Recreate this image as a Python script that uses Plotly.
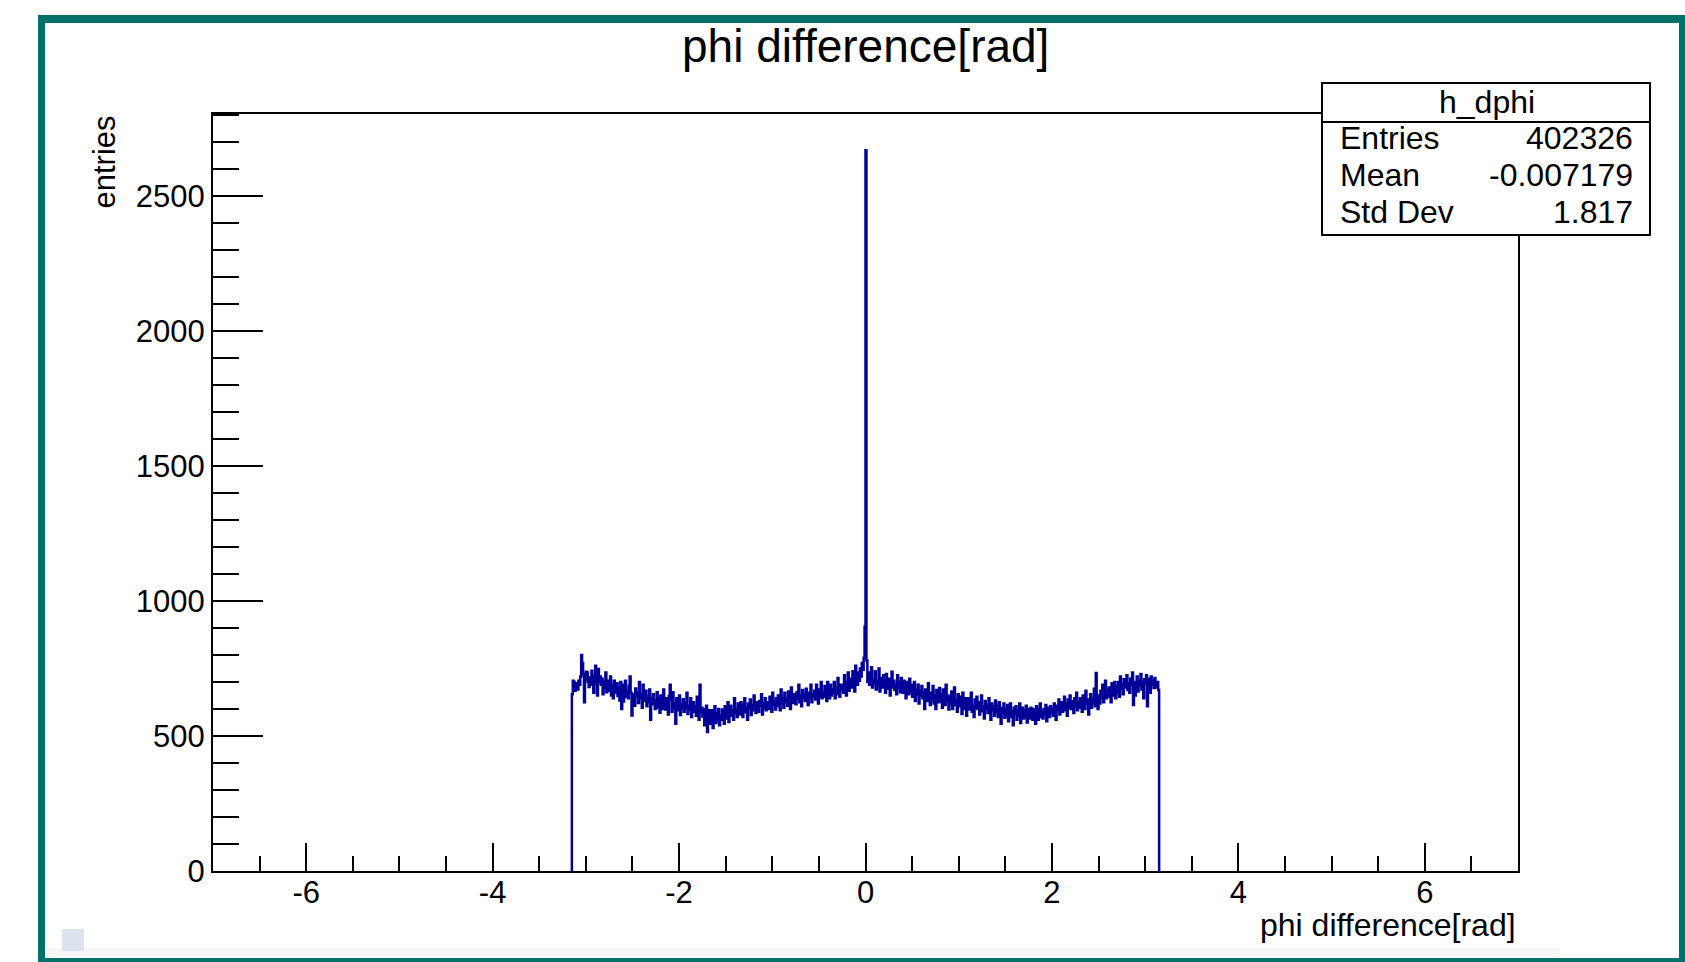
import numpy as np
import plotly.graph_objects as go

# ---------------- data ----------------
title_text = "phi difference[rad]"
x_title = "phi difference[rad]"
y_title = "entries"
hist_name = "h_dphi"
stat_labels = ["Entries", "Mean", "Std Dev"]
stat_values = ["402326", "-0.007179", "1.817"]

x_range = [-7, 7]
y_range = [0, 2804]
y_tickvals = [0, 500, 1000, 1500, 2000, 2500]
x_tickvals = [-6, -4, -2, 0, 2, 4, 6]

bin_lo = -3.15
bin_width = 0.01

counts_neg = [
    655, 705, 700, 668, 680, 695, 672, 705, 690, 720,
    800, 770, 730, 625, 710, 738, 735, 700, 682, 718,
    690, 742, 705, 660, 722, 760, 695, 650, 748, 700,
    720, 690, 712, 655, 700, 678, 735, 662, 690, 705,
    668, 720, 650, 688, 640, 705, 672, 660, 695, 648,
    678, 632, 700, 600, 690, 628, 668, 705, 645, 670,
    640, 686, 720, 660, 576, 635, 655, 612, 676, 648,
    662, 622, 700, 640, 655, 605, 690, 630, 650, 668,
    610, 645, 625, 672, 560, 640, 618, 655, 632, 600,
    628, 662, 605, 640, 586, 650, 620, 600, 672, 615,
    598, 640, 625, 580, 648, 690, 632, 590, 662, 605,
    620, 545, 640, 605, 595, 650, 578, 618, 600, 636,
    590, 625, 605, 660, 582, 612, 598, 640, 570, 615,
    625, 590, 610, 575, 645, 598, 560, 690, 588, 605,
    572, 600, 540, 585, 612, 515, 560, 595, 545, 580,
    595, 530, 570, 610, 548, 585, 560, 600, 540, 575,
    560, 598, 575, 545, 610, 580, 565, 625, 552, 590,
    612, 575, 595, 560, 640, 585, 600, 570, 620, 590,
    580, 625, 600, 570, 615, 640, 588, 605, 560, 620,
    600, 635, 578, 615, 595, 650, 605, 585, 625, 610,
    590, 630, 612, 655, 580, 620, 605, 640, 595, 618,
    625, 600, 645, 612, 590, 660, 615, 630, 598, 640,
    610, 650, 628, 595, 672, 620, 640, 605, 660, 625,
    640, 612, 665, 630, 600, 680, 645, 622, 655, 635,
    618, 662, 640, 690, 625, 650, 610, 670, 640, 655,
    630, 675, 645, 615, 660, 640, 690, 625, 655, 645,
    668, 635, 690, 650, 620, 672, 645, 700, 640, 660,
    645, 685, 655, 630, 700, 662, 640, 690, 650, 672,
    660, 700, 640, 680, 655, 715, 665, 645, 690, 670,
    690, 660, 725, 675, 650, 700, 735, 668, 690, 712,
    680, 740, 700, 665, 760, 710, 690, 735, 705, 750,
    720, 770, 745, 790, 905,
]

counts_pos = [
    2670, 780, 700, 735, 690, 720, 755, 680, 710, 695,
    740, 672, 705, 688, 750, 665, 715, 700, 680, 725,
    690, 660, 730, 700, 675, 712, 650, 695, 738, 680,
    705, 670, 690, 655, 725, 680, 700, 662, 715, 690,
    660, 705, 680, 640, 700, 672, 655, 712, 665, 690,
    645, 680, 700, 630, 670, 655, 690, 620, 668, 650,
    685, 640, 662, 600, 672, 650, 630, 695, 645, 615,
    660, 635, 685, 620, 650, 600, 670, 640, 625, 678,
    630, 655, 605, 672, 640, 615, 690, 628, 650, 598,
    645, 620, 665, 600, 640, 680, 615, 635, 590, 655,
    610, 645, 625, 582, 660, 615, 600, 640, 575, 625,
    640, 598, 620, 660, 590, 612, 570, 635, 605, 645,
    600, 625, 580, 615, 650, 592, 610, 565, 630, 598,
    615, 585, 640, 600, 560, 620, 595, 610, 575, 632,
    590, 612, 570, 625, 598, 545, 605, 585, 620, 568,
    600, 575, 615, 555, 595, 620, 570, 590, 540, 605,
    580, 610, 560, 595, 575, 620, 548, 590, 605, 565,
    595, 570, 612, 550, 588, 600, 565, 605, 580, 560,
    600, 575, 545, 610, 585, 560, 598, 620, 570, 590,
    565, 600, 580, 615, 555, 592, 605, 570, 610, 585,
    600, 575, 620, 590, 560, 612, 595, 635, 580, 605,
    625, 590, 610, 645, 595, 620, 575, 635, 605, 650,
    600, 630, 615, 585, 640, 610, 660, 595, 625, 605,
    640, 612, 590, 650, 625, 600, 668, 620, 635, 580,
    630, 655, 605, 640, 620, 675, 610, 733, 632, 600,
    650, 620, 668, 640, 690, 625, 655, 705, 640, 670,
    645, 680, 660, 625, 695, 650, 672, 700, 640, 685,
    660, 700, 645, 720, 675, 690, 655, 710, 680, 700,
    725, 670, 695, 660, 712, 690, 735, 615, 700, 650,
    690, 720, 665, 705, 688, 730, 672, 700, 640, 710,
    695, 725, 610, 712, 700, 660, 720, 690, 705, 678,
    715, 695, 680, 700, 670,
]

# ---------------- layout geometry (pixels) ----------------
W, H = 1685, 962
L, R, T, B = 213, 1518, 114, 871
FONT = "Liberation Sans, Arial, Helvetica, sans-serif"
TEAL = "#00706a"
HIST_COLOR = "#000099"


def px(x):
    return (x - L) / (R - L)


def py(y):
    return (B - y) / (B - T)


counts = counts_neg + counts_pos
n = len(counts)
edges = bin_lo + bin_width * np.arange(n + 1)
xs = [edges[0]] + list(edges) + [edges[-1]]
ys = [0] + counts + [counts[-1], 0]

fig = go.Figure()
fig.add_trace(go.Scatter(
    x=xs, y=ys, mode="lines", line=dict(color=HIST_COLOR, width=2.5, shape="hv"),
    hoverinfo="skip", showlegend=False,
))

fig.update_xaxes(
    range=x_range, showgrid=False, zeroline=False,
    showline=True, linecolor="black", linewidth=2, mirror=True,
    ticks="inside", ticklen=28, tickwidth=2, tickcolor="black",
    tickvals=x_tickvals, ticktext=[str(v) for v in x_tickvals],
    tickfont=dict(family=FONT, size=31, color="black"),
    ticklabelstandoff=-7,
    minor=dict(ticks="inside", ticklen=15, tickwidth=2, tickcolor="black", dtick=0.5, tick0=0),
)
fig.update_yaxes(
    range=y_range, showgrid=False, zeroline=False,
    showline=True, linecolor="black", linewidth=2, mirror=True,
    ticks="inside", ticklen=50, tickwidth=2, tickcolor="black",
    tickvals=y_tickvals, ticktext=[str(v) for v in y_tickvals],
    tickfont=dict(family=FONT, size=31, color="black"),
    minor=dict(ticks="inside", ticklen=26, tickwidth=2, tickcolor="black", dtick=100, tick0=0),
)

shapes = []
# teal window frame
for (x0, y0, x1, y1) in [(38, 15, 1690, 23), (38, 15, 45, 970), (1679, 15, 1690, 970), (38, 958, 1690, 970)]:
    shapes.append(dict(type="rect", xref="paper", yref="paper",
                       x0=px(x0), x1=px(x1), y0=py(y1), y1=py(y0),
                       fillcolor=TEAL, line=dict(width=0), layer="above"))
# faint strip near the bottom
shapes.append(dict(type="rect", xref="paper", yref="paper",
                   x0=px(45), x1=px(1560), y0=py(957), y1=py(948),
                   fillcolor="#f6f6f6", line=dict(width=0), layer="below"))
# small square at bottom left
shapes.append(dict(type="rect", xref="paper", yref="paper",
                   x0=px(62), x1=px(84), y0=py(951), y1=py(929),
                   fillcolor="#dbe3ec", line=dict(width=0), layer="above"))
# stats box
shapes.append(dict(type="rect", xref="paper", yref="paper",
                   x0=px(1322), x1=px(1650), y0=py(235), y1=py(83),
                   fillcolor="white", line=dict(color="black", width=2), layer="above"))
shapes.append(dict(type="line", xref="paper", yref="paper",
                   x0=px(1322), x1=px(1650), y0=py(122), y1=py(122),
                   line=dict(color="black", width=2), layer="above"))

annotations = []
annotations.append(dict(text=title_text, xref="paper", yref="paper", x=px(865), y=py(46),
                        xanchor="center", yanchor="middle", showarrow=False,
                        font=dict(family=FONT, size=46, color="black")))
annotations.append(dict(text=x_title, xref="paper", yref="paper", x=px(1518), y=py(925),
                        xanchor="right", yanchor="middle", showarrow=False,
                        font=dict(family=FONT, size=32, color="black")))
annotations.append(dict(text=y_title, xref="paper", yref="paper", x=px(104), y=py(114),
                        xanchor="center", yanchor="top", showarrow=False, textangle=-90,
                        font=dict(family=FONT, size=31, color="black")))
annotations.append(dict(text=hist_name, xref="paper", yref="paper", x=px(1487), y=py(102),
                        xanchor="center", yanchor="middle", showarrow=False,
                        font=dict(family=FONT, size=32, color="black")))
row_y = [138, 175, 212]
for lab, val, yy in zip(stat_labels, stat_values, row_y):
    annotations.append(dict(text=lab, xref="paper", yref="paper", x=px(1338), y=py(yy),
                            xanchor="left", yanchor="middle", showarrow=False,
                            font=dict(family=FONT, size=32, color="black")))
    annotations.append(dict(text=val, xref="paper", yref="paper", x=px(1635), y=py(yy),
                            xanchor="right", yanchor="middle", showarrow=False,
                            font=dict(family=FONT, size=32, color="black")))

fig.update_layout(
    width=W, height=H,
    margin=dict(l=L, r=W - R, t=T, b=H - B, pad=0),
    paper_bgcolor="white", plot_bgcolor="white",
    shapes=shapes, annotations=annotations,
    showlegend=False,
)

fig.write_html("out.html", config={"displayModeBar": False})
